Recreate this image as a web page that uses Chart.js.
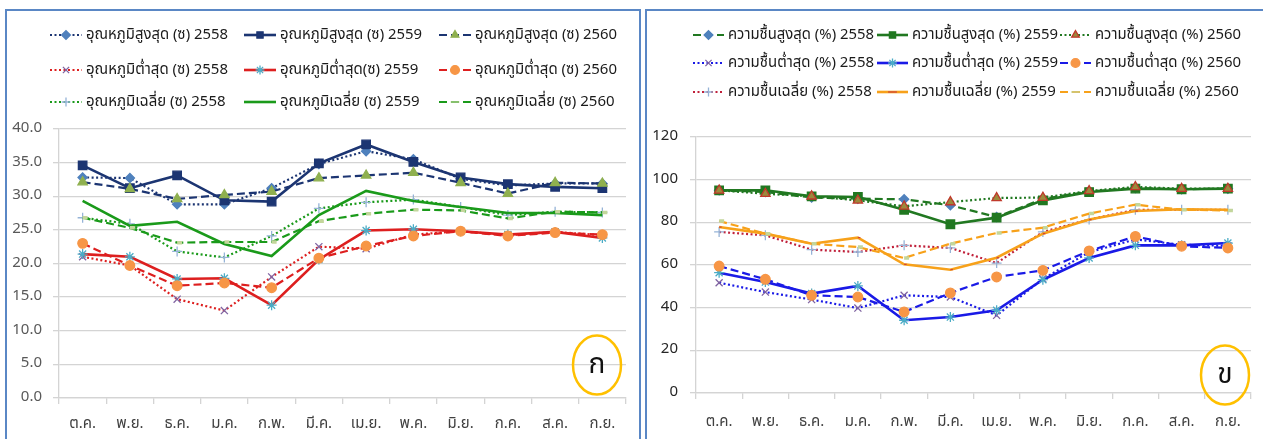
<!DOCTYPE html>
<html>
<head>
<meta charset="utf-8">
<script src="https://cdn.jsdelivr.net/npm/chart.js@4.4.1/dist/chart.umd.min.js"></script>
<style>
  html, body { margin: 0; padding: 0; background: #fff; }
  body { width: 1263px; height: 439px; position: relative; overflow: hidden; }
  .panel { position: absolute; top: 9px; border: 2px solid #5a87c5; height: 460px; }
  #leftPanel { left: 5px; width: 632px; }
  #rightPanel { left: 645px; width: 640px; }
  .panel canvas { position: absolute; left: 0; top: 0; }
</style>
</head>
<body>
<div class="panel" id="leftPanel"><canvas id="tempChart" width="632" height="428"></canvas></div>
<div class="panel" id="rightPanel"><canvas id="humChart" width="616" height="428"></canvas></div>
<script>
const months = ['ต.ค.', 'พ.ย.', 'ธ.ค.', 'ม.ค.', 'ก.พ.', 'มี.ค.', 'เม.ย.', 'พ.ค.', 'มิ.ย.', 'ก.ค.', 'ส.ค.', 'ก.ย.'];

// temperature (C)
const tempMax2558 = [32.8, 32.7, 28.8, 28.8, 31.2, 34.8, 36.7, 35.5, 32.6, 31.6, 31.9, 31.9];
const tempMax2559 = [34.6, 31.2, 33.1, 29.4, 29.2, 34.9, 37.7, 35.1, 32.8, 31.8, 31.4, 31.2];
const tempMax2560 = [32.1, 31.1, 29.6, 30.2, 30.7, 32.7, 33.1, 33.5, 32.0, 30.4, 32.0, 31.9];
const tempMin2558 = [21.0, 19.7, 14.7, 13.0, 18.0, 22.5, 22.2, 24.3, 24.8, 24.2, 24.7, 24.2];
const tempMin2559 = [21.4, 21.0, 17.7, 17.8, 13.8, 20.6, 24.9, 25.1, 24.8, 24.3, 24.7, 23.8];
const tempMin2560 = [23.0, 19.7, 16.7, 17.1, 16.4, 20.8, 22.6, 24.1, 24.8, 24.1, 24.6, 24.3];
const tempAvg2558 = [26.8, 25.9, 21.8, 20.9, 24.1, 28.2, 29.1, 29.5, 28.4, 27.2, 27.7, 27.6];
const tempAvg2559 = [29.3, 25.6, 26.2, 22.9, 21.1, 27.2, 30.8, 29.3, 28.4, 27.5, 27.5, 27.2];
const tempAvg2560 = [26.8, 25.3, 23.1, 23.2, 23.2, 26.3, 27.4, 28.0, 27.9, 26.7, 27.7, 27.6];

// humidity (%)
const humMax2558 = [95.0, 94.2, 91.6, 91.1, 90.8, 88.0, 82.5, 91.0, 94.5, 96.1, 95.5, 95.8];
const humMax2559 = [95.0, 95.0, 92.2, 91.9, 85.9, 79.1, 82.2, 90.3, 94.2, 95.8, 95.5, 95.8];
const humMax2560 = [95.0, 93.4, 92.2, 90.3, 87.5, 89.5, 91.4, 91.6, 94.7, 96.6, 95.8, 95.8];
const humMin2558 = [51.7, 47.3, 43.8, 39.8, 45.8, 45.0, 36.4, 53.5, 66.0, 72.0, 69.5, 69.0];
const humMin2559 = [56.4, 52.0, 46.6, 50.2, 34.1, 35.6, 38.8, 53.1, 63.3, 69.2, 69.2, 70.3];
const humMin2560 = [59.5, 53.3, 45.8, 45.0, 38.0, 46.9, 54.4, 57.5, 66.6, 73.4, 68.8, 68.0];
const humAvg2558 = [75.5, 73.9, 67.2, 66.1, 69.2, 68.0, 60.9, 75.5, 81.3, 85.9, 85.9, 85.9];
const humAvg2559 = [77.8, 74.7, 70.0, 72.8, 60.3, 57.8, 63.4, 74.7, 81.3, 85.3, 86.1, 85.9];
const humAvg2560 = [80.6, 74.7, 70.0, 68.4, 63.3, 70.0, 75.0, 77.5, 84.1, 88.3, 85.9, 85.6];

const tempLabels = [
    'อุณหภูมิสูงสุด (ซ) 2558', 'อุณหภูมิสูงสุด (ซ) 2559', 'อุณหภูมิสูงสุด (ซ) 2560',
    'อุณหภูมิต่ำสุด (ซ) 2558', 'อุณหภูมิต่ำสุด(ซ) 2559', 'อุณหภูมิต่ำสุด (ซ) 2560',
    'อุณหภูมิเฉลี่ย (ซ) 2558', 'อุณหภูมิเฉลี่ย (ซ) 2559', 'อุณหภูมิเฉลี่ย (ซ) 2560'
];
const humLabels = [
    'ความชื้นสูงสุด (%) 2558', 'ความชื้นสูงสุด (%) 2559', 'ความชื้นสูงสุด (%) 2560',
    'ความชื้นต่ำสุด (%) 2558', 'ความชื้นต่ำสุด (%) 2559', 'ความชื้นต่ำสุด (%) 2560',
    'ความชื้นเฉลี่ย (%) 2558', 'ความชื้นเฉลี่ย (%) 2559', 'ความชื้นเฉลี่ย (%) 2560'
];

const FONT = "Tahoma, 'Leelawadee UI', 'Noto Sans Thai', 'Noto Sans', sans-serif";
const DOT = [2, 2.5];
const DASH = [8, 4];

// one line series: dash pattern, line colour, marker style, marker fill, marker edge
function series(label, data, i, dash, color, style, fill, edge, radius) {
    return {
        label: label,
        data: data,
        order: 8 - i,
        borderColor: color,
        borderWidth: dash.length ? 2.2 : 2.6,
        borderDash: dash,
        fill: false,
        tension: 0,
        pointStyle: style || false,
        pointRadius: style ? (radius || 4.8) : 0,
        pointBackgroundColor: fill,
        pointBorderColor: edge || fill,
        pointBorderWidth: 1.3
    };
}

function drawMarker(ctx, style, x, y, r, fill, edge) {
    ctx.save();
    ctx.setLineDash([]);
    ctx.fillStyle = fill;
    ctx.strokeStyle = edge;
    ctx.lineWidth = 1.3;
    ctx.beginPath();
    if (style === 'rect') {
        const s = r * Math.SQRT1_2;
        ctx.rect(x - s, y - s, 2 * s, 2 * s);
        ctx.fill(); ctx.stroke();
    } else if (style === 'rectRot') {
        ctx.moveTo(x, y - r); ctx.lineTo(x + r, y); ctx.lineTo(x, y + r); ctx.lineTo(x - r, y);
        ctx.closePath(); ctx.fill(); ctx.stroke();
    } else if (style === 'triangle') {
        ctx.moveTo(x, y - r); ctx.lineTo(x + r * 0.87, y + r * 0.5); ctx.lineTo(x - r * 0.87, y + r * 0.5);
        ctx.closePath(); ctx.fill(); ctx.stroke();
    } else if (style === 'circle') {
        ctx.arc(x, y, r, 0, Math.PI * 2);
        ctx.fill(); ctx.stroke();
    } else {
        if (style === 'cross' || style === 'star') {
            ctx.moveTo(x, y - r); ctx.lineTo(x, y + r); ctx.moveTo(x - r, y); ctx.lineTo(x + r, y);
        }
        if (style === 'crossRot' || style === 'star') {
            const d = r * Math.SQRT1_2;
            ctx.moveTo(x - d, y - d); ctx.lineTo(x + d, y + d); ctx.moveTo(x + d, y - d); ctx.lineTo(x - d, y + d);
        }
        if (style === 'dash') {
            ctx.moveTo(x - r, y); ctx.lineTo(x + r, y);
        }
        ctx.stroke();
    }
    ctx.restore();
}

// legend grid (3 x 3) and the circled panel letter
function panelDecor(cols, rows, symW, textW, letter) {
    return {
        id: 'panelDecor',
        afterDraw(chart) {
            const ctx = chart.ctx;
            chart.data.datasets.forEach((ds, i) => {
                const x0 = cols[i % 3];
                const y = rows[Math.floor(i / 3)];
                ctx.save();
                ctx.strokeStyle = ds.borderColor;
                ctx.lineWidth = ds.borderWidth;
                ctx.setLineDash(ds.borderDash);
                ctx.beginPath();
                ctx.moveTo(x0, y);
                ctx.lineTo(x0 + symW, y);
                ctx.stroke();
                ctx.restore();
                if (ds.pointStyle) {
                    drawMarker(ctx, ds.pointStyle, x0 + symW / 2, y, 4.4, ds.pointBackgroundColor, ds.pointBorderColor);
                }
                ctx.save();
                ctx.fillStyle = '#1a1a1a';
                ctx.font = '15px ' + FONT;
                ctx.textBaseline = 'middle';
                ctx.fillText(ds.label, x0 + symW + 4, y + 1, textW);
                ctx.restore();
            });
            ctx.save();
            ctx.strokeStyle = '#ffc000';
            ctx.lineWidth = 2.5;
            ctx.beginPath();
            ctx.ellipse(letter.x, letter.y, 24, 29.5, 0, 0, Math.PI * 2);
            ctx.stroke();
            ctx.fillStyle = '#111';
            ctx.font = '28px ' + FONT;
            ctx.textAlign = 'center';
            ctx.textBaseline = 'middle';
            ctx.fillText(letter.text, letter.x, letter.y + 2);
            ctx.restore();
        }
    };
}

function makeOptions(cfg) {
    return {
        responsive: false,
        animation: false,
        events: [],
        layout: { padding: { top: cfg.top, right: cfg.right, left: 0, bottom: 0 } },
        plugins: { legend: { display: false }, tooltip: { enabled: false } },
        scales: {
            x: {
                offset: true,
                grid: { offset: true, drawOnChartArea: false, drawTicks: true, tickLength: 6, color: '#d4d4d4', lineWidth: 1.3 },
                border: { display: true, color: '#d4d4d4', width: 1.3 },
                ticks: { color: '#404040', padding: cfg.xPad, maxRotation: 0, autoSkip: false, font: { family: FONT, size: 15 } },
                afterFit(scale) { scale.height = cfg.xHeight; }
            },
            y: {
                min: cfg.min,
                max: cfg.max,
                grid: { color: '#d4d4d4', lineWidth: 1.3, drawTicks: true, tickLength: 6 },
                border: { display: true, color: '#d4d4d4', width: 1.3 },
                ticks: {
                    stepSize: cfg.step,
                    color: cfg.yColor,
                    padding: cfg.yPad,
                    font: { family: FONT, size: 15 },
                    callback: cfg.fmt
                },
                afterFit(scale) { scale.width = cfg.yWidth; }
            }
        }
    };
}

// ---- left: temperature ----
const navy = '#1c3572', tRed = '#dd1f1f', tGreen = '#1a9a1a';
const tempSets = [
    series(tempLabels[0], tempMax2558, 0, DOT, navy, 'rectRot', '#4f81bd', '#4f81bd', 4.6),
    series(tempLabels[1], tempMax2559, 1, [], navy, 'rect', navy, navy, 6),
    series(tempLabels[2], tempMax2560, 2, DASH, navy, 'triangle', '#8fb04f', '#8fb04f', 5.4),
    series(tempLabels[3], tempMin2558, 3, DOT, tRed, 'crossRot', '#8064a2', '#8064a2', 5),
    series(tempLabels[4], tempMin2559, 4, [], tRed, 'star', '#4bacc6', '#4bacc6', 5),
    series(tempLabels[5], tempMin2560, 5, DASH, tRed, 'circle', '#f79646', '#f79646', 4.8),
    series(tempLabels[6], tempAvg2558, 6, DOT, tGreen, 'cross', '#95b3d7', '#95b3d7', 5),
    series(tempLabels[7], tempAvg2559, 7, [], tGreen, null, tGreen, tGreen),
    series(tempLabels[8], tempAvg2560, 8, DASH, tGreen, 'dash', '#c3d69b', '#c3d69b', 5)
];
tempSets[8].pointBorderWidth = 3.5;

new Chart(document.getElementById('tempChart'), {
    type: 'line',
    data: { labels: months, datasets: tempSets },
    options: makeOptions({
        top: 118, right: 13, xHeight: 41, xPad: 12, yWidth: 52, yPad: 11,
        min: 0, max: 40, step: 5, yColor: '#595959',
        fmt: v => Number(v).toFixed(1)
    }),
    plugins: [panelDecor([43, 237, 432], [24, 59, 91], 32, 142, { text: 'ก', x: 590, y: 354 })]
});

// ---- right: humidity ----
const hGreen = '#217821', hBlue = '#1a1ae6', hRed = '#c0203a', hOrange = '#f7a11a';
const humSets = [
    series(humLabels[0], humMax2558, 0, DASH, hGreen, 'rectRot', '#4f81bd', '#4f81bd', 4.6),
    series(humLabels[1], humMax2559, 1, [], hGreen, 'rect', hGreen, hGreen, 6),
    series(humLabels[2], humMax2560, 2, DOT, hGreen, 'triangle', '#9c8a3c', '#c0392b', 5.4),
    series(humLabels[3], humMin2558, 3, DOT, hBlue, 'crossRot', '#8064a2', '#8064a2', 5),
    series(humLabels[4], humMin2559, 4, [], hBlue, 'star', '#4bacc6', '#4bacc6', 5),
    series(humLabels[5], humMin2560, 5, DASH, hBlue, 'circle', '#f79646', '#f79646', 4.8),
    series(humLabels[6], humAvg2558, 6, DOT, hRed, 'cross', '#95b3d7', '#95b3d7', 5),
    series(humLabels[7], humAvg2559, 7, [], hOrange, 'dash', '#d0443a', '#d0443a', 2.5),
    series(humLabels[8], humAvg2560, 8, DASH, hOrange, 'dash', '#c3d69b', '#c3d69b', 5)
];
humSets[8].pointBorderWidth = 3.5;

new Chart(document.getElementById('humChart'), {
    type: 'line',
    data: { labels: months, datasets: humSets },
    options: makeOptions({
        top: 126, right: 12, xHeight: 46, xPad: 15, yWidth: 49, yPad: 12,
        min: 0, max: 120, step: 20, yColor: '#262626',
        fmt: v => v
    }),
    plugins: [panelDecor([46, 230, 413], [24, 52, 81], 31, 146, { text: 'ข', x: 578, y: 364 })]
});
</script>
</body>
</html>
